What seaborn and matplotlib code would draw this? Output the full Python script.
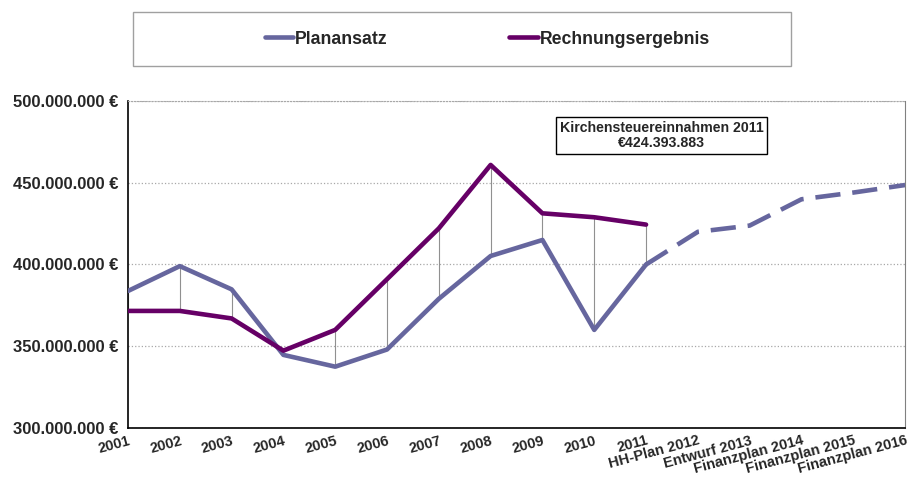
import pandas as pd
import matplotlib.pyplot as plt
import matplotlib.patches as patches
import seaborn as sns

# Kategorien der x-Achse
kategorien = ['2001', '2002', '2003', '2004', '2005', '2006', '2007', '2008', '2009',
              '2010', '2011', 'HH-Plan 2012', 'Entwurf 2013', 'Finanzplan 2014',
              'Finanzplan 2015', 'Finanzplan 2016']

# Werte in Mio. Euro
planansatz = [383.8, 399.0, 384.8, 344.7, 337.5, 348.0, 379.0, 405.2, 415.0, 360.0,
              400.0, 420.0, 423.8, 439.9, 444.0, 448.6]
rechnungsergebnis = [371.6, 371.6, 367.0, 347.3, 360.0, 391.0, 422.1, 460.9, 431.3,
                     428.9, 424.4]

farbe_plan = '#66669E'
farbe_rech = '#660066'

sns.set_style('white')
plt.rcParams['font.family'] = ['Liberation Sans', 'DejaVu Sans']

df_plan = pd.DataFrame({'pos': range(len(planansatz)),
                        'wert': [v * 1e6 for v in planansatz]})
df_rech = pd.DataFrame({'pos': range(len(rechnungsergebnis)),
                        'wert': [v * 1e6 for v in rechnungsergebnis]})
n_ist = len(rechnungsergebnis)

fig = plt.figure(figsize=(9.11, 4.88), dpi=100)
ax = fig.add_axes([0.1405, 0.123, 0.853, 0.670])

# Verbindungslinien zwischen Plan und Ergebnis
ax.vlines(df_rech['pos'], df_plan['wert'][:n_ist], df_rech['wert'],
          color='#909090', lw=0.8, zorder=1)

sns.lineplot(data=df_plan.iloc[:n_ist], x='pos', y='wert', ax=ax, color=farbe_plan,
             lw=3.3, label='Planansatz', zorder=3)
sns.lineplot(data=df_plan.iloc[n_ist - 1:], x='pos', y='wert', ax=ax, color=farbe_plan,
             lw=3.3, dashes=(5.5, 2.6), zorder=3)
sns.lineplot(data=df_rech, x='pos', y='wert', ax=ax, color=farbe_rech,
             lw=3.3, label='Rechnungsergebnis', zorder=4)

ax.set_xlim(0, len(kategorien) - 1)
ax.set_ylim(300e6, 500e6)
ax.set_yticks([300e6, 350e6, 400e6, 450e6, 500e6])
ax.set_yticklabels([f'{int(v/1e6)}.000.000 €' for v in ax.get_yticks()],
                   fontsize=12, fontweight='bold')
ax.set_xticks(range(len(kategorien)))
ax.set_xticklabels(kategorien, rotation=15, ha='right', rotation_mode='anchor',
                   fontsize=10.5, fontweight='bold')
ax.set_xlabel('')
ax.set_ylabel('')
ax.tick_params(axis='both', direction='out', length=4, width=0.8, color='#404040', pad=3)
ax.tick_params(axis='x', pad=0)

ax.yaxis.grid(True, color='#a8a8a8', ls=':', lw=0.9)
for s in ['left', 'bottom']:
    ax.spines[s].set_color('black')
    ax.spines[s].set_linewidth(1.2)
ax.spines['right'].set_color('#808080')
ax.spines['top'].set_color('#a8a8a8')
ax.spines['top'].set_linestyle(':')

# Info-Kasten
ax.text(10.3, 479e6, 'Kirchensteuereinnahmen 2011\n€424.393.883', ha='center', va='center',
        fontsize=10.2, fontweight='bold', linespacing=1.15,
        bbox=dict(boxstyle='square,pad=0.25', fc='white', ec='black', lw=1.0))

# Legende mit Rahmen
ax.get_legend().remove()
rahmen = patches.Rectangle((133 / 911, 1 - 66 / 488), (791 - 133) / 911, 54 / 488,
                           transform=fig.transFigure, fill=False, ec='#a0a0a0', lw=1.0)
fig.patches.append(rahmen)
h, l = ax.get_legend_handles_labels()
fig.legend(h[:2], ['Planansatz', 'Rechnungsergebnis'], loc='center',
           bbox_to_anchor=(0.535, 0.92), ncol=2, frameon=False,
           prop={'weight': 'bold', 'size': 12.7}, handlelength=1.6, handletextpad=0.1,
           columnspacing=6.9)

plt.savefig('out.png', dpi=100)
